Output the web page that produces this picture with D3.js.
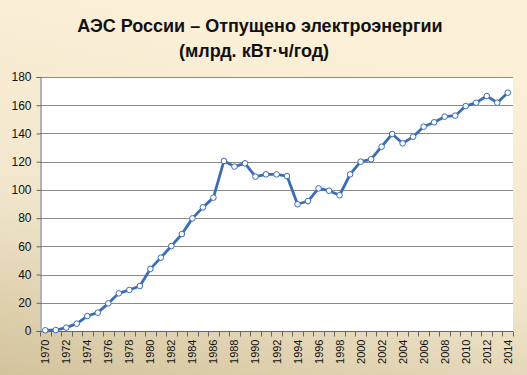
<!DOCTYPE html>
<html><head><meta charset="utf-8">
<script src="https://cdn.jsdelivr.net/npm/d3@7"></script>
<style>html,body{margin:0;padding:0;overflow:hidden;}</style>
</head><body>
<svg id="c" width="527" height="375"></svg>
<script>
const years = d3.range(1970, 2015);
const values = [0.5,0.7,2.4,5.2,10.6,13.0,19.6,26.7,29.1,31.9,
  44.0,52.0,60.2,68.7,79.8,87.6,94.5,120.5,116.5,118.8,
  109.4,111.0,111.0,109.8,89.8,92.1,101.1,99.4,96.2,111.0,
  120.0,121.7,130.6,139.6,133.0,137.7,144.8,147.9,151.9,152.6,
  159.4,161.8,166.5,161.8,168.9];
const yTicks = [0,20,40,60,80,100,120,140,160,180];
const titleLines = ["АЭС России – Отпущено электроэнергии", "(млрд. кВт·ч/год)"];

const svg = d3.select("#c");
const W = 527, H = 375;
const defs = svg.append("defs");
const g1 = defs.append("linearGradient").attr("id","bg").attr("x1","0.3").attr("y1","0").attr("x2","0").attr("y2","1");
g1.append("stop").attr("offset","0").attr("stop-color","#FCF0D8");
g1.append("stop").attr("offset","0.55").attr("stop-color","#F1E6CC");
g1.append("stop").attr("offset","1").attr("stop-color","#D3C39C");
svg.append("rect").attr("width",W).attr("height",H).attr("fill","url(#bg)");

const mL = 40, mR = 513, mT = 77, mB = 331;
const x = d3.scaleBand().domain(years).range([mL, mR]).padding(0);
const y = d3.scaleLinear().domain([0,180]).range([mB, mT]);

svg.append("rect").attr("x",mL).attr("y",mT).attr("width",mR-mL).attr("height",mB-mT).attr("fill","#fff");

// grid
svg.append("g").selectAll("line").data(yTicks.filter(d=>d>0)).join("line")
  .attr("x1",mL).attr("x2",mR).attr("y1",d=>Math.round(y(d))+0.5).attr("y2",d=>Math.round(y(d))+0.5)
  .attr("stroke","#8a8a8a").attr("stroke-width",1.2);

// y axis
const ya = svg.append("g").attr("transform",`translate(${mL+0.5},0)`)
  .call(d3.axisLeft(y).tickValues(yTicks).tickSize(4).tickPadding(5).tickFormat(d3.format("d")));
ya.select(".domain").attr("stroke","#666");
ya.selectAll(".tick line").attr("stroke","#666");
ya.selectAll(".tick text").attr("font-family","Liberation Sans, Arial, sans-serif").attr("font-size",12).attr("fill","#111");

// x axis
const xa = svg.append("g").attr("transform",`translate(0,${mB+0.5})`);
xa.append("line").attr("x1",mL).attr("x2",mR).attr("stroke","#666");
xa.selectAll("line.tk").data(d3.range(years.length+1)).join("line").attr("class","tk")
  .attr("x1",i=>Math.round(mL + i*x.bandwidth())+0.5).attr("x2",i=>Math.round(mL + i*x.bandwidth())+0.5)
  .attr("y1",0).attr("y2",5).attr("stroke","#666");
xa.selectAll("text").data(years.filter(d=>d%2===0)).join("text")
  .attr("transform",d=>`translate(${x(d)+x.bandwidth()/2+4},8) rotate(-90)`)
  .attr("text-anchor","end")
  .attr("font-family","Liberation Sans, Arial, sans-serif").attr("font-size",11).attr("fill","#111")
  .text(d=>d);

// line
const pts = years.map((yr,i)=>({yr, v: values[i]}));
const line = d3.line().x(d=>x(d.yr)+x.bandwidth()/2).y(d=>y(d.v));
svg.append("path").datum(pts).attr("d",line).attr("fill","none").attr("stroke","#3A6DB5").attr("stroke-width",2.8).attr("stroke-linejoin","round");
svg.append("g").selectAll("circle").data(pts).join("circle")
  .attr("cx",d=>x(d.yr)+x.bandwidth()/2).attr("cy",d=>y(d.v)).attr("r",2.8)
  .attr("fill","#fff").attr("stroke","#3A6DB5").attr("stroke-width",1);

// title
svg.append("g").selectAll("text").data(titleLines).join("text")
  .attr("x",(d,i)=>i===0?260:254).attr("y",(d,i)=>32+i*25).attr("text-anchor","middle")
  .attr("font-family","Liberation Sans, Arial, sans-serif").attr("font-weight","bold").attr("font-size",18).attr("fill","#111")
  .text(d=>d);
</script>
</body></html>
